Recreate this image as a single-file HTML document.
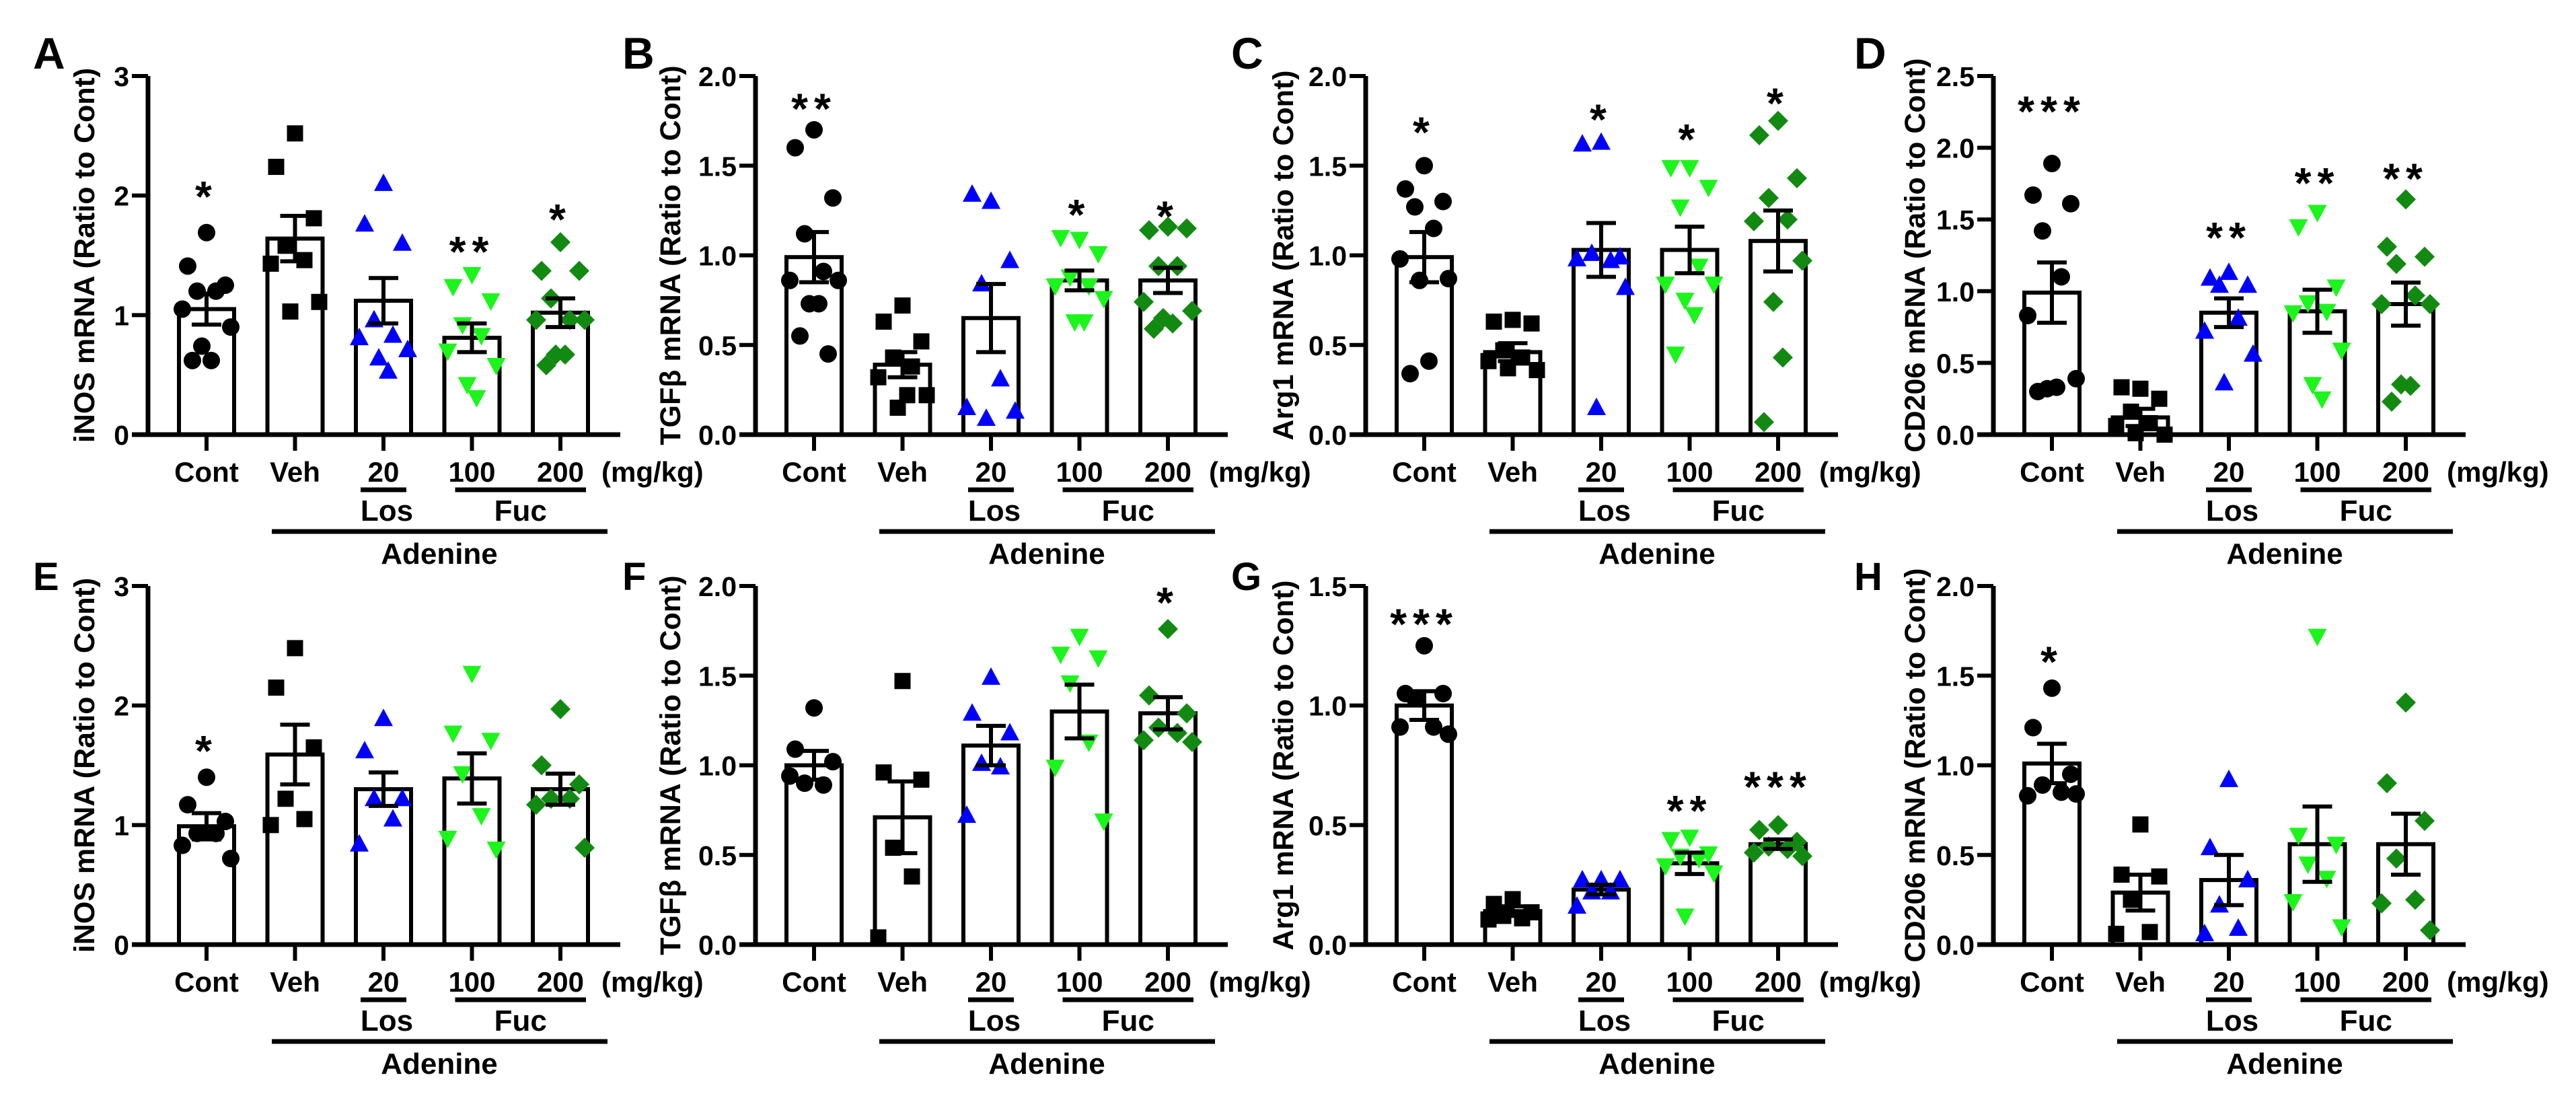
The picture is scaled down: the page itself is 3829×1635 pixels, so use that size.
<!DOCTYPE html>
<html><head><meta charset="utf-8">
<style>
html,body{margin:0;padding:0;background:#fff;}
svg{display:block;font-family:"Liberation Sans",Arial,sans-serif;font-weight:bold;}
</style></head>
<body>
<svg id="fig" width="3829" height="1635" viewBox="0 0 3829 1635" xmlns="http://www.w3.org/2000/svg"></svg>
<script>
const groupLabels = ['Cont','Veh','20','100','200'];
const groupColors = ['#000000','#000000','#0000ff','#1cf51c','#128a12'];
const groupShapes = ['circle','square','tri-up','tri-down','diamond'];

// Panel A - iNOS
const ticksA = [0,1,2,3];
const meansA = [1.05,1.64,1.12,0.81,1.02];
const semsA = [0.13,0.19,0.19,0.12,0.12];
const pointsA = [[1.69,1.41,1.25,1.20,1.20,1.05,0.90,0.74,0.62,0.62],[2.52,2.24,1.81,1.58,1.46,1.43,1.11,1.03],[2.10,1.76,1.60,0.96,0.83,0.81,0.71,0.64,0.53],[1.34,1.24,1.12,0.92,0.83,0.70,0.58,0.42,0.31],[1.61,1.37,1.37,1.14,0.96,0.96,0.96,0.67,0.67,0.58]];
const starsA = ['*','','','**','*'];
const starLvA = [2.07,0,0,1.61,1.88];
// Panel B - TGFb
const ticksB = [0,0.5,1.0,1.5,2.0];
const meansB = [0.99,0.39,0.65,0.86,0.86];
const semsB = [0.14,0.07,0.19,0.055,0.07];
const pointsB = [[1.70,1.60,1.32,1.12,0.91,0.86,0.86,0.73,0.73,0.55,0.45],[0.72,0.63,0.52,0.43,0.38,0.32,0.22,0.15,0.22],[1.30,1.34,0.97,0.84,0.31,0.15,0.13,0.09],[1.09,1.10,1.01,0.88,0.83,0.83,0.76,0.63,0.63],[1.16,1.14,1.15,0.94,0.94,0.74,0.69,0.65,0.62,0.59]];
const starsB = ['**','','','*','*'];
const starLvB = [1.87,0,0,1.28,1.27];
// Panel C - Arg1
const ticksC = [0,0.5,1.0,1.5,2.0];
const meansC = [0.99,0.46,1.03,1.03,1.08];
const semsC = [0.14,0.05,0.15,0.13,0.17];
const pointsC = [[1.50,1.37,1.30,1.27,1.15,0.98,0.87,0.86,0.41,0.34],[0.64,0.63,0.62,0.47,0.43,0.41,0.36,0.37],[1.63,1.62,0.99,1.01,0.97,0.98,0.82,0.15],[1.49,1.49,1.38,1.27,0.94,0.84,0.84,0.75,0.67,0.45],[1.75,1.67,1.43,1.32,1.20,1.19,0.97,0.74,0.43,0.07]];
const starsC = ['*','','*','*','*'];
const starLvC = [1.74,0,1.81,1.70,1.90];
// Panel D - CD206
const ticksD = [0,0.5,1.0,1.5,2.0,2.5];
const meansD = [0.99,0.12,0.85,0.86,0.91];
const semsD = [0.21,0.06,0.10,0.15,0.15];
const pointsD = [[1.89,1.67,1.61,1.42,1.10,0.83,0.39,0.32,0.33,0.30],[0.32,0.33,0.25,0.16,0.08,0.06,0.0,0.01],[1.13,1.09,1.04,1.04,0.81,0.72,0.56,0.36],[1.55,1.45,1.03,0.92,0.86,0.85,0.59,0.35,0.25],[1.64,1.31,1.24,1.19,0.97,0.91,0.91,0.35,0.34,0.23]];
const starsD = ['***','','**','**','**'];
const starLvD = [2.32,0,1.44,1.82,1.85];
// Panel E - iNOS
const ticksE = [0,1,2,3];
const meansE = [0.99,1.59,1.30,1.39,1.30];
const semsE = [0.11,0.25,0.14,0.21,0.13];
const pointsE = [[1.40,1.17,1.03,0.93,0.93,0.83,0.72],[2.48,2.15,1.65,1.22,1.05,1.00],[1.89,1.62,1.22,1.22,1.05,0.84],[2.27,1.77,1.71,1.43,1.08,0.89,0.80],[1.97,1.50,1.34,1.22,1.22,1.17,0.81]];
const starsE = ['*','','','',''];
const starLvE = [1.70,0,0,0,0];
// Panel F - TGFb
const ticksF = [0,0.5,1.0,1.5,2.0];
const meansF = [1.00,0.71,1.11,1.30,1.29];
const semsF = [0.08,0.20,0.11,0.15,0.09];
const pointsF = [[1.32,1.09,1.02,0.90,0.89,0.94],[1.47,0.96,0.92,0.54,0.38,0.04],[1.49,1.29,1.18,1.01,0.99,0.72],[1.72,1.62,1.60,1.46,1.13,0.99,0.69],[1.76,1.39,1.29,1.21,1.18,1.14,1.13]];
const starsF = ['','','','','*'];
const starLvF = [0,0,0,0,1.96];
// Panel G - Arg1
const ticksG = [0,0.5,1.0,1.5];
const meansG = [1.00,0.14,0.23,0.34,0.42];
const semsG = [0.06,0.02,0.02,0.045,0.02];
const pointsG = [[1.25,1.05,1.05,1.03,0.91,0.91,0.88],[0.19,0.17,0.135,0.12,0.11,0.105],[0.27,0.27,0.27,0.22,0.22,0.16],[0.45,0.44,0.38,0.37,0.36,0.33,0.30,0.12],[0.50,0.48,0.43,0.41,0.40,0.385,0.37]];
const starsG = ['***','','','**','***'];
const starLvG = [1.38,0,0,0.60,0.70];
// Panel H - CD206
const ticksH = [0,0.5,1.0,1.5,2.0];
const meansH = [1.01,0.29,0.36,0.56,0.56];
const semsH = [0.11,0.10,0.14,0.21,0.17];
const pointsH = [[1.43,1.21,0.95,0.89,0.85,0.83,0.84],[0.67,0.39,0.38,0.25,0.07,0.06],[0.92,0.54,0.36,0.22,0.09,0.06],[1.72,0.61,0.56,0.45,0.37,0.24,0.10],[1.35,0.90,0.69,0.48,0.25,0.23,0.08]];
const starsH = ['*','','','',''];
const starLvH = [1.63,0,0,0,0];

const NS = 'http://www.w3.org/2000/svg';
const svg = document.getElementById('fig');
function mk(tag, attrs, parent, text){
  const e = document.createElementNS(NS, tag);
  for (const k in attrs) e.setAttribute(k, attrs[k]);
  if (text !== undefined) e.textContent = text;
  (parent||svg).appendChild(e);
  return e;
}
const colX = [220,1123,2030,2963];
const rowY0 = [646,1404];
const rowYT = [113,871];
const letterX = [49,925,1830,2756];
const jit = [0,-28,28,-14,14,-36,36,-7,7,-21,21];

function panel(col,row,letter,title,ticks,means,sems,points,stars,starLv){
  const ax = colX[col], y0 = rowY0[row], yT = rowY0[row]-533;
  const yMax = ticks[ticks.length-1];
  const sy = v => y0 - v / yMax * (y0 - yT);
  const sx = i => ax + 87 + i * 131.5;
  const g = mk('g', {});
  
  
  const L = mk('text', {x: letterX[col], y: row===0?102:877, 'font-size': row===0?66:58}, g, letter);
  
  
  const cx = [125,996,1907,2846][col], cy = (y0 + yT)/2;
  const T = mk('text', {x: cx+15, y: cy, 'font-size': 43, 'text-anchor':'middle', transform:'rotate(-90 '+(cx+15)+' '+cy+')'}, g, title);
  
  
  // bars
  means.forEach((m,i)=>{
    const b = mk('rect', {x: sx(i)-41, y: sy(m), width: 82, height: y0 - sy(m), fill:'#fff', stroke:'#000', 'stroke-width':6}, g);
    
    
  });
  // points
  points.forEach((arr,i)=>{
    arr.forEach((v,k)=>{
      const x = sx(i) + jit[k % jit.length], y = sy(v), c = groupColors[i], s = groupShapes[i];
      let p;
      if (s==='circle') p = mk('circle', {cx:x, cy:y, r:13, fill:c}, g);
      else if (s==='square') p = mk('rect', {x:x-12, y:y-12, width:24, height:24, fill:c}, g);
      else if (s==='tri-up') p = mk('polygon', {points:`${x},${y-15} ${x-14},${y+11} ${x+14},${y+11}`, fill:c}, g);
      else if (s==='tri-down') p = mk('polygon', {points:`${x},${y+15} ${x-14},${y-11} ${x+14},${y-11}`, fill:c}, g);
      else p = mk('polygon', {points:`${x},${y-15} ${x+15},${y} ${x},${y+15} ${x-15},${y}`, fill:c}, g);
      
      
    });
  });
  // error bars
  means.forEach((m,i)=>{
    const x = sx(i), hi = sy(m + sems[i]), lo = sy(m - sems[i]);
    const e = mk('path', {d:`M${x},${hi}V${lo}M${x-22},${hi}H${x+22}M${x-22},${lo}H${x+22}`, stroke:'#000', 'stroke-width':6, fill:'none'}, g);
    
    
  });
  // axes
  const axes = mk('path', {d:`M${ax},${yT}V${y0}M${ax-24},${y0}H${ax+702}`, stroke:'#000', 'stroke-width':7, fill:'none'}, g);
  
  
  ticks.forEach(t=>{
    mk('path', {d:`M${ax-24},${sy(t)}H${ax}`, stroke:'#000', 'stroke-width':6}, g);
    const tl = mk('text', {x: ax-28, y: sy(t)+15, 'font-size':41, 'text-anchor':'end'}, g, yMax===3 ? String(t) : t.toFixed(1));
    
    
  });
  groupLabels.forEach((lab,i)=>{
    mk('path', {d:`M${sx(i)},${y0}V${y0+24}`, stroke:'#000', 'stroke-width':6}, g);
    const cl = mk('text', {x: sx(i), y: y0+70, 'font-size':42, 'text-anchor':'middle'}, g, lab);
    
    
  });
  const u = mk('text', {x: ax+674, y: y0+70, 'font-size':42}, g, '(mg/kg)');
  
  
  mk('path', {d:`M${sx(2)-34},${y0+82}H${sx(2)+34}M${sx(3)-25},${y0+82}H${sx(4)+38}M${ax+184},${y0+144}H${ax+683}`, stroke:'#000', 'stroke-width':7}, g);
  const los = mk('text', {x: sx(2)+5, y: y0+128, 'font-size':44, 'text-anchor':'middle'}, g, 'Los');
  
  
  const fuc = mk('text', {x: (sx(3)-25+sx(4)+38)/2, y: y0+128, 'font-size':44, 'text-anchor':'middle'}, g, 'Fuc');
  
  
  const ad = mk('text', {x: ax+433, y: y0+192, 'font-size':44, 'text-anchor':'middle'}, g, 'Adenine');
  
  
  stars.forEach((s,i)=>{
    if (!s) return;
    const st = mk('text', {x: sx(i), y: sy(starLv[i])+36, 'font-size':64, 'text-anchor':'middle', 'letter-spacing':9}, g, s);
    
    
  });
}
panel(0,0,'A','iNOS mRNA (Ratio to Cont)',ticksA,meansA,semsA,pointsA,starsA,starLvA);
panel(1,0,'B','TGFβ mRNA (Ratio to Cont)',ticksB,meansB,semsB,pointsB,starsB,starLvB);
panel(2,0,'C','Arg1 mRNA (Ratio to Cont)',ticksC,meansC,semsC,pointsC,starsC,starLvC);
panel(3,0,'D','CD206 mRNA (Ratio to Cont)',ticksD,meansD,semsD,pointsD,starsD,starLvD);
panel(0,1,'E','iNOS mRNA (Ratio to Cont)',ticksE,meansE,semsE,pointsE,starsE,starLvE);
panel(1,1,'F','TGFβ mRNA (Ratio to Cont)',ticksF,meansF,semsF,pointsF,starsF,starLvF);
panel(2,1,'G','Arg1 mRNA (Ratio to Cont)',ticksG,meansG,semsG,pointsG,starsG,starLvG);
panel(3,1,'H','CD206 mRNA (Ratio to Cont)',ticksH,meansH,semsH,pointsH,starsH,starLvH);
</script>
</body></html>
